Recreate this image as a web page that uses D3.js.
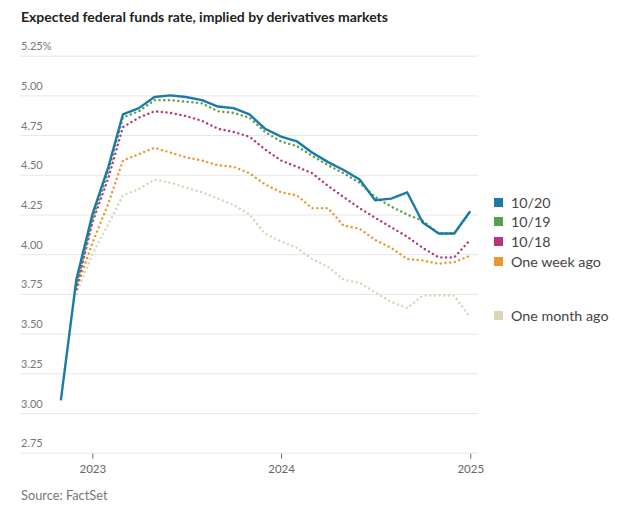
<!DOCTYPE html>
<html>
<head>
<meta charset="utf-8">
<script src="https://cdn.jsdelivr.net/npm/d3@7"></script>
<style>
  html, body { margin: 0; padding: 0; background: #fff; }
  svg { display: block; }
</style>
</head>
<body>
<svg id="chart" width="630" height="510"></svg>
<script>
// ---- Data ----
const months = ["2022-11","2022-12","2023-01","2023-02","2023-03","2023-04","2023-05","2023-06","2023-07","2023-08","2023-09","2023-10","2023-11","2023-12","2024-01","2024-02","2024-03","2024-04","2024-05","2024-06","2024-07","2024-08","2024-09","2024-10","2024-11","2024-12","2025-01"];
const seriesNames = ["10/20", "10/19", "10/18", "One week ago", "One month ago"];
const oct20 = [3.08,3.84,4.25,4.55,4.88,4.92,4.99,5.00,4.99,4.97,4.93,4.92,4.88,4.79,4.74,4.71,4.64,4.58,4.53,4.47,4.34,4.35,4.39,4.20,4.13,4.13,4.27];
const oct19 = [null,3.80,4.22,4.52,4.86,4.90,4.97,4.97,4.96,4.95,4.90,4.89,4.86,4.77,4.71,4.68,4.62,4.56,4.51,4.45,4.36,4.30,4.25,4.21,4.13,4.13,4.27];
const oct18 = [null,3.78,4.20,4.48,4.80,4.86,4.90,4.89,4.87,4.84,4.79,4.77,4.74,4.66,4.59,4.55,4.51,4.43,4.36,4.29,4.23,4.17,4.11,4.04,3.98,3.98,4.09];
const weekAgo = [null,3.78,4.07,4.32,4.59,4.63,4.67,4.64,4.61,4.59,4.56,4.55,4.51,4.44,4.39,4.37,4.29,4.29,4.18,4.16,4.09,4.04,3.97,3.96,3.94,3.95,3.99];
const monthAgo = [null,3.75,4.00,4.19,4.37,4.41,4.47,4.45,4.42,4.39,4.35,4.31,4.25,4.13,4.08,4.04,3.97,3.92,3.84,3.82,3.76,3.70,3.66,3.74,3.74,3.74,3.60];
const yTicks = [2.75,3.00,3.25,3.50,3.75,4.00,4.25,4.50,4.75,5.00,5.25];
const xTickYears = ["2023","2024","2025"];
const title = "Expected federal funds rate, implied by derivatives markets";
const source = "Source: FactSet";

// ---- Styles / layout ----
const colors = ["#1c7aa6", "#55a04c", "#b8347f", "#e8992e", "#ddd5b8"];
const seriesValues = [oct20, oct19, oct18, weekAgo, monthAgo];
const drawOrder = [4, 3, 2, 1, 0];
const legendY = [203, 222, 242, 262, 316];
const font = "Lato, 'Open Sans', sans-serif";

const svg = d3.select("#chart");
const parse = d3.timeParse("%Y-%m");
const dates = months.map(parse);

const x = d3.scaleTime()
  .domain([new Date(2022, 7, 14), new Date(2025, 0, 16)])
  .range([20, 478]);
const y = d3.scaleLinear()
  .domain([2.75, 5.25])
  .range([452.7, 55.7]);

// Title
svg.append("text")
  .attr("x", 21).attr("y", 22)
  .attr("font-family", font)
  .attr("font-weight", 700)
  .attr("font-size", 14)
  .attr("fill", "#222")
  .text(title);

// Y grid + labels
const yAxis = d3.axisRight(y)
  .tickValues(yTicks)
  .tickSize(458)
  .tickFormat((d, i) => i === yTicks.length - 1 ? d3.format(".2f")(d) + "%" : d3.format(".2f")(d));
const gy = svg.append("g").attr("transform", "translate(20,0)").call(yAxis);
gy.select(".domain").remove();
gy.selectAll(".tick line").attr("stroke", "#e6e6e6").attr("stroke-width", 1);
gy.selectAll(".tick text")
  .attr("x", 1).attr("dy", -6)
  .attr("text-anchor", "start")
  .attr("font-family", font)
  .attr("font-size", 11)
  .attr("fill", "#777");

// X axis
const xAxis = d3.axisBottom(x)
  .tickValues(xTickYears.map(d3.timeParse("%Y")))
  .tickSize(5)
  .tickPadding(6)
  .tickFormat(d3.timeFormat("%Y"));
const gx = svg.append("g").attr("transform", `translate(0,${y(2.75) + 1})`).call(xAxis);
gx.select(".domain").remove();
gx.selectAll(".tick line").attr("stroke", "#666").attr("stroke-width", 1);
gx.selectAll(".tick text")
  .attr("font-family", font)
  .attr("font-size", 11.5)
  .attr("fill", "#666");

// Lines
const line = d3.line()
  .defined(d => d.v != null)
  .x(d => x(d.date))
  .y(d => y(d.v));

drawOrder.forEach(i => {
  const data = dates.map((date, j) => ({ date, v: seriesValues[i][j] }));
  const p = svg.append("path")
    .datum(data)
    .attr("fill", "none")
    .attr("stroke", colors[i])
    .attr("d", line);
  if (i === 0) {
    p.attr("stroke-width", 2.4).attr("stroke-linejoin", "round");
  } else {
    p.attr("stroke-width", 2.4)
     .attr("stroke-linecap", "round")
     .attr("stroke-dasharray", "0.1 4.6");
  }
});

// Legend
const lg = svg.append("g");
seriesNames.forEach((name, i) => {
  lg.append("rect")
    .attr("x", 494).attr("y", legendY[i] - 5)
    .attr("width", 9).attr("height", 9)
    .attr("fill", colors[i]);
  lg.append("text")
    .attr("x", 511).attr("y", legendY[i] + 5)
    .attr("font-family", font)
    .attr("font-size", 14.3)
    .attr("fill", "#444")
    .text(name);
});

// Source
svg.append("text")
  .attr("x", 21).attr("y", 500)
  .attr("font-family", font)
  .attr("font-size", 12.8)
  .attr("fill", "#777")
  .text(source);
</script>
</body>
</html>
